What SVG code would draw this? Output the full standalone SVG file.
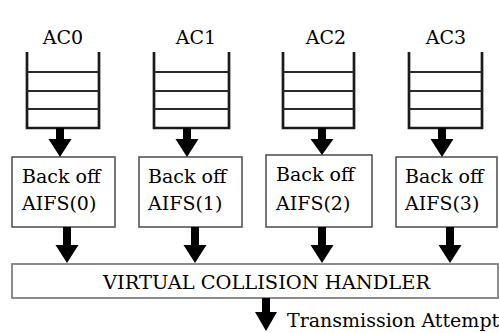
<svg xmlns="http://www.w3.org/2000/svg" width="499" height="333" viewBox="0 0 499 333">
<style>
text{font-family:"DejaVu Serif","Liberation Serif",serif;font-size:19px;fill:#000}
.q{fill:none;stroke:#1a1a1a;stroke-width:2.7}
.ql{stroke:#2a2a2a;stroke-width:2}
.box{fill:#fff;stroke:#555;stroke-width:1.6}
.hbox{fill:#fff;stroke:#808080;stroke-width:1.8}
.arr{fill:#000}
</style>
<rect width="499" height="333" fill="#fff"/>
<g id="ac0">
<text x="63" y="44" text-anchor="middle">AC0</text>
<path class="q" d="M27,52V128H99V52"/>
<path class="ql" d="M27,72H99M27,91H99M27,109H99"/>
</g>
<g id="ac1">
<text x="196" y="44" text-anchor="middle">AC1</text>
<path class="q" d="M154,52V128H229V52"/>
<path class="ql" d="M154,72H229M154,91H229M154,109H229"/>
</g>
<g id="ac2">
<text x="326" y="44" text-anchor="middle">AC2</text>
<path class="q" d="M283,52V128H354V52"/>
<path class="ql" d="M283,72H354M283,91H354M283,109H354"/>
</g>
<g id="ac3">
<text x="446" y="44" text-anchor="middle">AC3</text>
<path class="q" d="M409,52V128H482V52"/>
<path class="ql" d="M409,72H482M409,91H482M409,109H482"/>
</g>
<g id="backoff0">
<rect class="box" x="12" y="157" width="103" height="70"/>
<text x="22" y="183">Back off</text>
<text x="22" y="210">AIFS(0)</text>
</g>
<g id="backoff1">
<rect class="box" x="139" y="157" width="103" height="70"/>
<text x="148" y="183">Back off</text>
<text x="148" y="210">AIFS(1)</text>
</g>
<g id="backoff2">
<rect class="box" x="266" y="155" width="106" height="72"/>
<text x="276" y="181">Back off</text>
<text x="276" y="210">AIFS(2)</text>
</g>
<g id="backoff3">
<rect class="box" x="396" y="157" width="101" height="70"/>
<text x="405" y="183">Back off</text>
<text x="405" y="210">AIFS(3)</text>
</g>
<g id="handler">
<rect class="hbox" x="12" y="264" width="486" height="34"/>
<text x="103" y="289" textLength="327" lengthAdjust="spacingAndGlyphs">VIRTUAL COLLISION HANDLER</text>
</g>
<g id="connectors">
<polygon class="arr" points="56,128 64,128 64,139 71.5,139 60,157 48.5,139 56,139"/>
<polygon class="arr" points="183,128 191,128 191,139 198.5,139 187,157 175.5,139 183,139"/>
<polygon class="arr" points="318,128 326,128 326,139 333.5,139 322,155 310.5,139 318,139"/>
<polygon class="arr" points="438,128 446,128 446,139 453.5,139 442,157 430.5,139 438,139"/>
<polygon class="arr" points="63,227 71,227 71,245 78.5,245 67,263 55.5,245 63,245"/>
<polygon class="arr" points="191,227 199,227 199,245 206.5,245 195,263 183.5,245 191,245"/>
<polygon class="arr" points="318,227 326,227 326,245 333.5,245 322,263 310.5,245 318,245"/>
<polygon class="arr" points="446,227 454,227 454,245 461.5,245 450,263 438.5,245 446,245"/>
<polygon class="arr" points="262,298 270,298 270,312 277,312 266,331 255,312 262,312"/>
</g>
<g id="label-transmission">
<text x="287" y="327">Transmission Attempt</text>
</g>
</svg>
